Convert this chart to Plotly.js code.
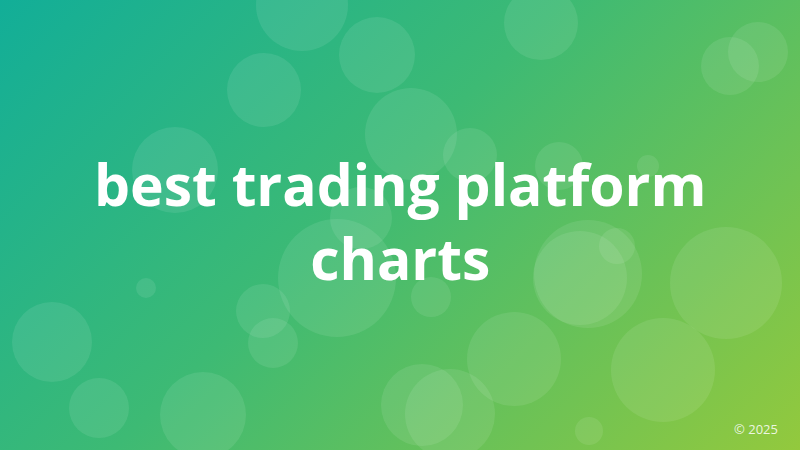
<!DOCTYPE html>
<html>
<head>
<meta charset="utf-8">
<script src="https://cdn.plot.ly/plotly-3.0.1.min.js"></script>
<style>
  html, body { margin: 0; padding: 0; }
  #chart {
    width: 800px; height: 450px;
    background: linear-gradient(135deg, #12ae98 0%, #3dba74 45%, #93c93d 100%);
  }
</style>
</head>
<body>
<div id="chart"></div>
<script>
// 배경 원 (중심 x, 중심 y, 반지름 px)
const CIRCLE_X = [302, 377, 264, 411, 175, 541, 730, 758, 559, 648, 470, 361, 337, 588, 580, 617, 726, 431, 514, 663, 422, 450, 589, 52, 99, 203, 146, 263, 273];
const CIRCLE_Y = [5, 55, 90, 134, 170, 23, 66, 52, 166, 166, 155, 218, 278, 274, 278, 246, 283, 297, 359, 370, 405, 414, 431, 342, 408, 415, 288, 311, 343];
const CIRCLE_R = [46, 38, 37, 46, 43, 37, 29, 30, 24, 11, 27, 31, 59, 54, 47, 18, 56, 20, 47, 52, 41, 45, 14, 40, 30, 43, 10, 27, 25];

const TITLE_LINES = ['best trading platform', 'charts'];
const FOOTER = '© 2025';

const circles = {
  x: CIRCLE_X, y: CIRCLE_Y,
  type: 'scatter', mode: 'markers',
  marker: {
    size: CIRCLE_R.map(r => r * 2),
    sizemode: 'diameter',
    color: 'rgba(255,255,255,0.13)',
    line: { width: 0 },
  },
  hoverinfo: 'skip',
};

const layout = {
  width: 800, height: 450,
  margin: { l: 0, r: 0, t: 0, b: 0 },
  paper_bgcolor: 'rgba(0,0,0,0)',
  plot_bgcolor: 'rgba(0,0,0,0)',
  showlegend: false,
  xaxis: { range: [0, 800], visible: false, fixedrange: true },
  yaxis: { range: [450, 0], visible: false, fixedrange: true },
  annotations: [
    {
      x: 400, y: 221, xref: 'x', yref: 'y',
      text: '<b>' + TITLE_LINES.join('<br>') + '</b>',
      showarrow: false,
      font: { family: 'Open Sans, sans-serif', size: 57, color: '#ffffff' },
      align: 'center',
    },
    {
      x: 780, y: 429, xref: 'x', yref: 'y',
      xanchor: 'right',
      text: FOOTER,
      showarrow: false,
      font: { family: 'Open Sans, sans-serif', size: 13, color: 'rgba(255,255,255,0.85)' },
    },
  ],
};

Plotly.newPlot('chart', [circles], layout, { displayModeBar: false, staticPlot: true });
</script>
</body>
</html>
